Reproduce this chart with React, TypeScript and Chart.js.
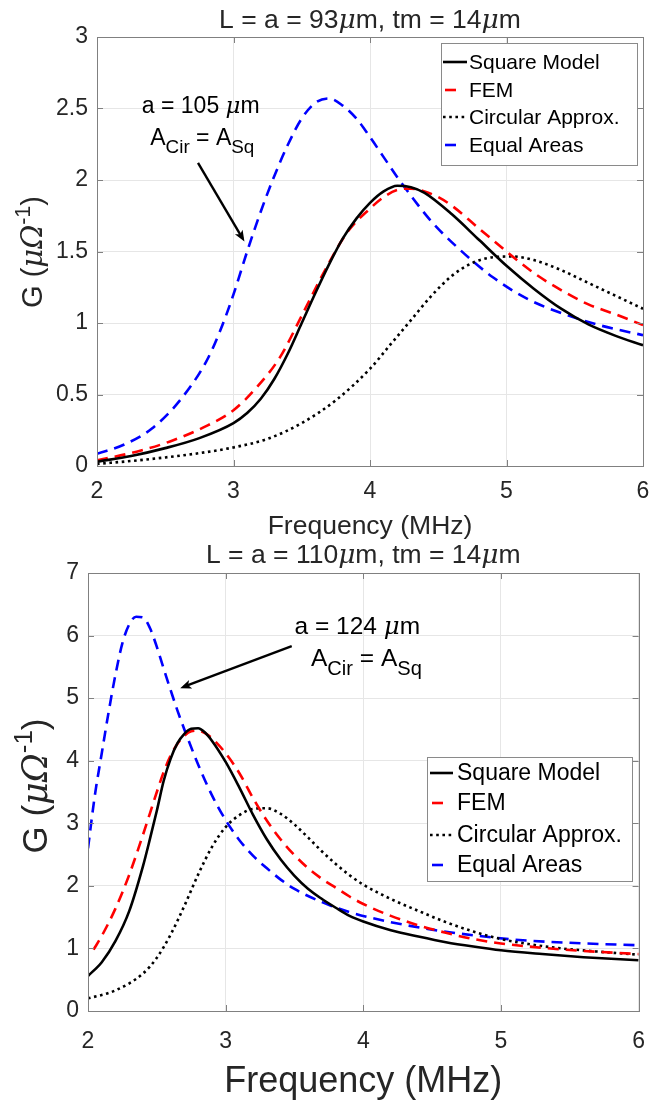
import React, { useEffect, useRef } from 'react';
import { Chart, registerables } from 'chart.js';

Chart.register(...registerables);

const FONT = '"Liberation Sans", Arial, Helvetica, sans-serif';
const SERIF = '"DejaVu Serif", "Liberation Serif", serif';

// ---------- Top panel: L = a = 93 µm ----------
const topSquareF = [2, 2.25, 2.5, 2.75, 3.0, 3.1, 3.2, 3.3, 3.4, 3.5, 3.6, 3.7, 3.8, 3.9, 4.0, 4.1, 4.2, 4.3, 4.4, 4.6, 4.8, 5.0, 5.2, 5.4, 5.6, 5.8, 6.0];
const topSquareG = [0.03, 0.07, 0.125, 0.195, 0.3, 0.37, 0.47, 0.61, 0.79, 1.0, 1.21, 1.41, 1.59, 1.73, 1.84, 1.92, 1.96, 1.95, 1.91, 1.76, 1.58, 1.4, 1.24, 1.1, 0.99, 0.91, 0.845];

const topFemF = [2, 2.29, 2.53, 2.78, 3.0, 3.17, 3.34, 3.51, 3.66, 3.83, 4.0, 4.1, 4.2, 4.3, 4.4, 4.5, 4.6, 4.8, 5.0, 5.2, 5.4, 5.6, 5.8, 6.0];
const topFemG = [0.04, 0.1, 0.17, 0.27, 0.39, 0.55, 0.76, 1.07, 1.35, 1.63, 1.8, 1.88, 1.93, 1.94, 1.92, 1.88, 1.82, 1.66, 1.5, 1.35, 1.23, 1.13, 1.06, 0.985];

const topCircF = [2, 2.25, 2.5, 2.75, 3.0, 3.25, 3.5, 3.75, 4.0, 4.15, 4.3, 4.45, 4.6, 4.75, 4.9, 5.05, 5.2, 5.4, 5.6, 5.8, 6.0];
const topCircG = [0.015, 0.035, 0.06, 0.09, 0.13, 0.19, 0.3, 0.46, 0.68, 0.85, 1.02, 1.19, 1.33, 1.42, 1.46, 1.465, 1.44, 1.37, 1.28, 1.19, 1.1];

const topEqF = [2, 2.2, 2.4, 2.6, 2.8, 2.9, 3.0, 3.1, 3.2, 3.3, 3.4, 3.5, 3.6, 3.7, 3.8, 3.9, 4.0, 4.1, 4.2, 4.3, 4.45, 4.65, 4.9, 5.15, 5.4, 5.7, 6.0];
const topEqG = [0.085, 0.15, 0.26, 0.45, 0.73, 0.94, 1.2, 1.5, 1.78, 2.03, 2.25, 2.43, 2.54, 2.57, 2.52, 2.43, 2.3, 2.16, 2.02, 1.89, 1.71, 1.52, 1.32, 1.17, 1.07, 0.98, 0.915];

// ---------- Bottom panel: L = a = 110 µm ----------
const botSquareF = [2, 2.1, 2.2, 2.3, 2.4, 2.45, 2.5, 2.55, 2.6, 2.65, 2.7, 2.75, 2.8, 2.85, 2.9, 3.0, 3.1, 3.2, 3.3, 3.4, 3.5, 3.6, 3.7, 3.8, 3.9, 4.0, 4.2, 4.4, 4.6, 4.8, 5.0, 5.3, 5.6, 6.0];
const botSquareG = [0.56, 0.78, 1.12, 1.6, 2.32, 2.75, 3.2, 3.68, 4.03, 4.28, 4.43, 4.51, 4.52, 4.45, 4.32, 3.98, 3.57, 3.13, 2.74, 2.42, 2.16, 1.95, 1.79, 1.65, 1.52, 1.43, 1.29, 1.19, 1.1, 1.03, 0.97, 0.91, 0.86, 0.81];

const botFemF = [2.04, 2.1, 2.2, 2.3, 2.4, 2.5, 2.55, 2.6, 2.65, 2.7, 2.75, 2.8, 2.85, 2.9, 3.0, 3.1, 3.2, 3.3, 3.4, 3.5, 3.6, 3.7, 3.8, 3.9, 4.0, 4.2, 4.4, 4.6, 4.8, 5.0, 5.3, 5.6, 6.0];
const botFemG = [0.98, 1.2, 1.64, 2.18, 2.82, 3.5, 3.82, 4.08, 4.27, 4.4, 4.47, 4.48, 4.44, 4.36, 4.12, 3.8, 3.4, 3.04, 2.74, 2.49, 2.28, 2.11, 1.97, 1.83, 1.71, 1.52, 1.37, 1.25, 1.15, 1.08, 1.01, 0.96, 0.91];

const botCircF = [2, 2.2, 2.4, 2.5, 2.6, 2.7, 2.8, 2.9, 3.0, 3.1, 3.2, 3.3, 3.4, 3.5, 3.6, 3.7, 3.8, 3.9, 4.0, 4.2, 4.4, 4.6, 4.8, 5.0, 5.2, 5.4, 5.7, 6.0];
const botCircG = [0.2, 0.33, 0.6, 0.85, 1.22, 1.68, 2.18, 2.62, 2.94, 3.13, 3.23, 3.24, 3.15, 2.98, 2.77, 2.55, 2.35, 2.17, 2.02, 1.79, 1.6, 1.42, 1.27, 1.15, 1.07, 1.01, 0.95, 0.9];

const botEqF = [2, 2.05, 2.1, 2.15, 2.2, 2.25, 2.3, 2.35, 2.4, 2.45, 2.5, 2.55, 2.6, 2.65, 2.7, 2.8, 2.9, 3.0, 3.1, 3.2, 3.3, 3.4, 3.5, 3.7, 3.9, 4.2, 4.5, 4.8, 5.1, 5.5, 6.0];
const botEqG = [2.6, 3.45, 4.12, 4.78, 5.38, 5.88, 6.18, 6.3, 6.29, 6.12, 5.82, 5.47, 5.13, 4.8, 4.5, 3.94, 3.45, 3.05, 2.73, 2.48, 2.28, 2.1, 1.95, 1.74, 1.58, 1.42, 1.3, 1.21, 1.14, 1.09, 1.05];

// ---------- Axes / labels ----------
const xTicks = [2, 3, 4, 5, 6];
const topYTicks = [0, 0.5, 1, 1.5, 2, 2.5, 3];
const botYTicks = [0, 1, 2, 3, 4, 5, 6, 7];
const seriesNames = ['Square Model', 'FEM', 'Circular Approx.', 'Equal Areas'];
const topTitle = ['L = a = 93', 'μ', 'm, tm = 14', 'μ', 'm'];
const botTitle = ['L = a = 110', 'μ', 'm, tm = 14', 'μ', 'm'];
const xLabel = 'Frequency (MHz)';

// annotation anchors in data units [freq, G]
const topNoteLine1 = [2.76, 2.47];
const topNoteLine2 = [2.39, 2.245];
const topArrowFrom = [2.74, 2.12];
const topArrowTo = [3.08, 1.57];
const botNoteLine1 = [3.5, 6.02];
const botNoteLine2 = [3.62, 5.51];
const botArrowFrom = [3.48, 5.83];
const botArrowTo = [2.67, 5.16];

type Seg = { t: string; italic?: boolean; sub?: boolean; sup?: boolean; serif?: boolean };

function drawRich(ctx: CanvasRenderingContext2D, segs: Seg[], x: number, y: number, size: number, align: 'left' | 'center' | 'right', subRatio = 0.74) {
  const fontFor = (s: Seg) => {
    const sz = s.sub || s.sup ? size * subRatio : size;
    return `${s.italic ? 'italic ' : ''}${sz}px ${s.serif ? SERIF : FONT}`;
  };
  let total = 0;
  const widths = segs.map((s) => {
    ctx.font = fontFor(s);
    const w = ctx.measureText(s.t).width;
    total += w;
    return w;
  });
  let cx = align === 'left' ? x : align === 'center' ? x - total / 2 : x - total;
  ctx.textAlign = 'left';
  ctx.textBaseline = 'alphabetic';
  segs.forEach((s, i) => {
    ctx.font = fontFor(s);
    const dy = s.sub ? size * 0.34 : s.sup ? -size * 0.42 : 0;
    ctx.fillText(s.t, cx, y + dy);
    cx += widths[i];
  });
}

function titleSegs(parts: string[]): Seg[] {
  return parts.map((t) => (t === 'μ' ? { t, italic: true, serif: true } : { t }));
}

type Panel = {
  width: number;
  height: number;
  top: number;
  right: number;
  yAxisW: number;
  xAxisH: number;
  yMax: number;
  yTicks: number[];
  series: { f: number[]; g: number[] }[];
  title: string[];
  titleBase: number;
  titleSize: number;
  xLabelBase: number;
  xLabelSize: number;
  yLabelX: number;
  yLabelCenter: number;
  yLabelSize: number;
  tickSize: number;
  xTickPad: number;
  legend: { x: number; y: number; w: number; h: number; rowY: number[]; textX: number; sampleX0: number; sampleX1: number; size: number };
  note: { l1: number[]; l2: number[]; from: number[]; to: number[]; size: number; text1: string; l1Align: 'left' | 'center' };
};

const COLORS = ['#000000', '#ff0000', '#000000', '#0000ff'];
const DASHES: number[][] = [[], [11, 7], [2.6, 3.6], [11, 7]];

function makePlugin(p: Panel) {
  return {
    id: 'decor',
    beforeDraw(chart: any) {
      const ctx = chart.ctx;
      ctx.save();
      ctx.fillStyle = '#ffffff';
      ctx.fillRect(0, 0, chart.width, chart.height);
      ctx.restore();
    },
    afterDraw(chart: any) {
      const ctx: CanvasRenderingContext2D = chart.ctx;
      const a = chart.chartArea;
      const xs = chart.scales.x;
      const ys = chart.scales.y;
      ctx.save();
      // box
      ctx.strokeStyle = '#808080';
      ctx.lineWidth = 1;
      ctx.setLineDash([]);
      ctx.strokeRect(Math.round(a.left) + 0.5, Math.round(a.top) + 0.5, Math.round(a.right - a.left), Math.round(a.bottom - a.top));
      // inward ticks
      ctx.beginPath();
      xTicks.forEach((v) => {
        const px = Math.round(xs.getPixelForValue(v)) + 0.5;
        ctx.moveTo(px, a.bottom);
        ctx.lineTo(px, a.bottom - 6);
        ctx.moveTo(px, a.top);
        ctx.lineTo(px, a.top + 6);
      });
      p.yTicks.forEach((v) => {
        const py = Math.round(ys.getPixelForValue(v)) + 0.5;
        ctx.moveTo(a.left, py);
        ctx.lineTo(a.left + 6, py);
        ctx.moveTo(a.right, py);
        ctx.lineTo(a.right - 6, py);
      });
      ctx.stroke();

      ctx.fillStyle = '#262626';
      // title
      drawRich(ctx, titleSegs(p.title), (a.left + a.right) / 2, p.titleBase, p.titleSize, 'center');
      // x label
      drawRich(ctx, [{ t: xLabel }], (a.left + a.right) / 2, p.xLabelBase, p.xLabelSize, 'center');
      // y label
      ctx.save();
      ctx.translate(p.yLabelX, p.yLabelCenter);
      ctx.rotate(-Math.PI / 2);
      drawRich(
        ctx,
        [{ t: 'G (' }, { t: 'μΩ', italic: true, serif: true }, { t: '-1', sup: true }, { t: ')' }],
        0,
        0,
        p.yLabelSize,
        'center'
      );
      ctx.restore();

      // legend
      const L = p.legend;
      ctx.fillStyle = '#ffffff';
      ctx.fillRect(L.x, L.y, L.w, L.h);
      ctx.strokeStyle = '#8a8a8a';
      ctx.lineWidth = 1;
      ctx.strokeRect(L.x + 0.5, L.y + 0.5, L.w, L.h);
      seriesNames.forEach((name, i) => {
        const yy = L.rowY[i];
        ctx.strokeStyle = COLORS[i];
        ctx.lineWidth = 2.6;
        ctx.lineCap = 'butt';
        ctx.beginPath();
        if (i === 1 || i === 3) {
          ctx.setLineDash([]);
          ctx.moveTo(L.sampleX0 + 2, yy);
          ctx.lineTo(L.sampleX0 + 13, yy);
        } else {
          ctx.setLineDash(DASHES[i]);
          ctx.moveTo(L.sampleX0, yy);
          ctx.lineTo(L.sampleX1, yy);
        }
        ctx.stroke();
        ctx.setLineDash([]);
        ctx.fillStyle = '#000000';
        ctx.font = `${L.size}px ${FONT}`;
        ctx.textAlign = 'left';
        ctx.textBaseline = 'middle';
        ctx.fillText(name, L.textX, yy + 1);
      });

      // annotation
      const N = p.note;
      ctx.fillStyle = '#000000';
      const px = (v: number[]) => [xs.getPixelForValue(v[0]), ys.getPixelForValue(v[1])];
      const [l1x, l1y] = px(N.l1);
      drawRich(ctx, [{ t: N.text1 }, { t: 'μ', italic: true, serif: true }, { t: 'm' }], l1x, l1y, N.size, N.l1Align);
      const [l2x, l2y] = px(N.l2);
      drawRich(ctx, [{ t: 'A' }, { t: 'Cir', sub: true }, { t: ' = A' }, { t: 'Sq', sub: true }], l2x, l2y, N.size, 'left', 0.82);
      const [fx, fy] = px(N.from);
      const [tx, ty] = px(N.to);
      ctx.strokeStyle = '#000000';
      ctx.lineWidth = 2.4;
      ctx.setLineDash([]);
      const ang = Math.atan2(ty - fy, tx - fx);
      const head = 12;
      ctx.beginPath();
      ctx.moveTo(fx, fy);
      ctx.lineTo(tx - Math.cos(ang) * 4, ty - Math.sin(ang) * 4);
      ctx.stroke();
      ctx.fillStyle = '#000000';
      ctx.beginPath();
      ctx.moveTo(tx, ty);
      ctx.lineTo(tx - head * Math.cos(ang - 0.38), ty - head * Math.sin(ang - 0.38));
      ctx.lineTo(tx - head * 0.7 * Math.cos(ang), ty - head * 0.7 * Math.sin(ang));
      ctx.lineTo(tx - head * Math.cos(ang + 0.38), ty - head * Math.sin(ang + 0.38));
      ctx.closePath();
      ctx.fill();
      ctx.restore();
    },
  };
}

function makeConfig(p: Panel): any {
  return {
    type: 'line',
    data: {
      datasets: p.series.map((s, i) => ({
        label: seriesNames[i],
        data: s.f.map((f, k) => ({ x: f, y: s.g[k] })),
        borderColor: COLORS[i],
        borderWidth: 2.6,
        borderDash: DASHES[i],
        borderCapStyle: 'butt',
        borderJoinStyle: 'round',
        pointRadius: 0,
        fill: false,
        cubicInterpolationMode: 'monotone',
      })),
    },
    options: {
      responsive: false,
      animation: false,
      events: [],
      layout: { padding: { top: p.top, right: p.right, left: 0, bottom: 0 } },
      plugins: { legend: { display: false }, tooltip: { enabled: false }, title: { display: false } },
      scales: {
        x: {
          type: 'linear',
          min: 2,
          max: 6,
          afterBuildTicks: (s: any) => {
            s.ticks = xTicks.map((v) => ({ value: v }));
          },
          ticks: { font: { family: FONT, size: p.tickSize }, color: '#262626', padding: p.xTickPad, maxRotation: 0, callback: (v: any) => `${v}` },
          grid: { color: '#e6e6e6', drawTicks: false },
          border: { display: false },
          afterFit: (s: any) => {
            s.height = p.xAxisH;
          },
        },
        y: {
          type: 'linear',
          min: 0,
          max: p.yMax,
          afterBuildTicks: (s: any) => {
            s.ticks = p.yTicks.map((v) => ({ value: v }));
          },
          ticks: { font: { family: FONT, size: p.tickSize }, color: '#262626', padding: 9, callback: (v: any) => `${v}` },
          grid: { color: '#e6e6e6', drawTicks: false },
          border: { display: false },
          afterFit: (s: any) => {
            s.width = p.yAxisW;
          },
        },
      },
    },
    plugins: [makePlugin(p)],
  };
}

const topPanel: Panel = {
  width: 662,
  height: 540,
  top: 37,
  right: 19,
  yAxisW: 97,
  xAxisH: 74,
  yMax: 3,
  yTicks: topYTicks,
  series: [
    { f: topSquareF, g: topSquareG },
    { f: topFemF, g: topFemG },
    { f: topCircF, g: topCircG },
    { f: topEqF, g: topEqG },
  ],
  title: topTitle,
  titleBase: 28,
  titleSize: 26.5,
  xLabelBase: 534,
  xLabelSize: 26.5,
  yLabelX: 42,
  yLabelCenter: 252,
  yLabelSize: 29,
  tickSize: 23,
  xTickPad: 12,
  legend: { x: 441, y: 43, w: 196, h: 122, rowY: [62, 90, 117, 145], textX: 469, sampleX0: 443, sampleX1: 467, size: 21 },
  note: { l1: topNoteLine1, l2: topNoteLine2, from: topArrowFrom, to: topArrowTo, size: 23, text1: 'a = 105 ', l1Align: 'center' },
};

const botPanel: Panel = {
  width: 662,
  height: 560,
  top: 33,
  right: 19,
  yAxisW: 88,
  xAxisH: 89,
  yMax: 7,
  yTicks: botYTicks,
  series: [
    { f: botSquareF, g: botSquareG },
    { f: botFemF, g: botFemG },
    { f: botCircF, g: botCircG },
    { f: botEqF, g: botEqG },
  ],
  title: botTitle,
  titleBase: 23,
  titleSize: 26.5,
  xLabelBase: 552,
  xLabelSize: 36,
  yLabelX: 47,
  yLabelCenter: 246,
  yLabelSize: 35,
  tickSize: 23,
  xTickPad: 17,
  legend: { x: 427, y: 217, w: 205, h: 124, rowY: [233, 263, 295, 325], textX: 457, sampleX0: 430, sampleX1: 453, size: 23 },
  note: { l1: botNoteLine1, l2: botNoteLine2, from: botArrowFrom, to: botArrowTo, size: 24.5, text1: 'a = 124 ', l1Align: 'left' },
};

function PanelChart({ p }: { p: Panel }) {
  const ref = useRef<HTMLCanvasElement | null>(null);
  useEffect(() => {
    if (!ref.current) return;
    const chart = new Chart(ref.current, makeConfig(p));
    return () => chart.destroy();
  }, [p]);
  return <canvas ref={ref} width={p.width} height={p.height} style={{ display: 'block', width: p.width, height: p.height }} />;
}

export default function App() {
  useEffect(() => {
    document.body.style.margin = '0';
    document.body.style.background = '#ffffff';
  }, []);
  return (
    <div style={{ width: 662, height: 1100, background: '#ffffff' }}>
      <PanelChart p={topPanel} />
      <PanelChart p={botPanel} />
    </div>
  );
}
